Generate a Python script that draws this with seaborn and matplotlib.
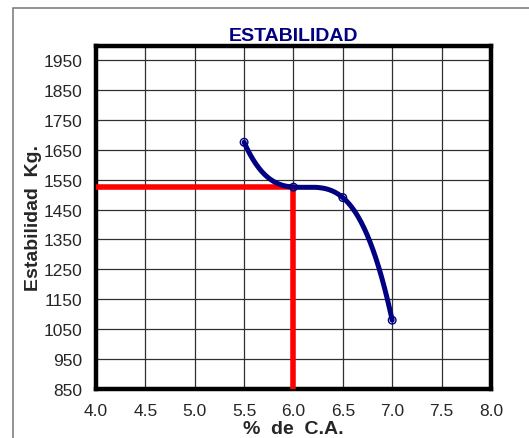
import numpy as np
import pandas as pd
import seaborn as sns
import matplotlib.pyplot as plt
from matplotlib.patches import Rectangle

# datos
porcentaje_ca = [5.5, 6.0, 6.5, 7.0]
estabilidad = [1675, 1525, 1490, 1080]
ca_optimo = 6.0
estab_optimo = 1525

x_ticks = [4.0, 4.5, 5.0, 5.5, 6.0, 6.5, 7.0, 7.5, 8.0]
y_ticks = [850, 950, 1050, 1150, 1250, 1350, 1450, 1550, 1650, 1750, 1850, 1950]

datos = pd.DataFrame({'ca': porcentaje_ca, 'est': estabilidad})

sns.set_style('white')
plt.rcParams['font.family'] = ['Liberation Sans', 'DejaVu Sans']

fig = plt.figure(figsize=(5.29, 4.39), dpi=100)
ax = fig.add_axes([0.1815, 0.1116, 0.7465, 0.7814])

# marco exterior como en Excel
fig.patches.append(Rectangle((13 / 529, -0.1), 1.2, 1 - 9 / 439 + 0.1,
                             transform=fig.transFigure, fill=False,
                             edgecolor='#808080', lw=1.2))

ax.set_xlim(4.0, 8.0)
ax.set_ylim(850, 1997)
ax.set_xticks(x_ticks)
ax.set_xticklabels([f'{v:.1f}' for v in x_ticks])
ax.set_yticks(y_ticks)
ax.grid(True, color='#303030', lw=0.9)

# lineas rojas del optimo
ax.plot([4.0, ca_optimo], [estab_optimo, estab_optimo], color='#ff0000', lw=4, zorder=3)
ax.plot([ca_optimo, ca_optimo], [850, estab_optimo], color='#ff0000', lw=4, zorder=3)

# linea de tendencia polinomica de orden 3
coef = np.polyfit(porcentaje_ca, estabilidad, 3)
xx = np.linspace(min(porcentaje_ca), max(porcentaje_ca), 200)
curva = pd.DataFrame({'ca': xx, 'est': np.polyval(coef, xx)})
sns.lineplot(data=curva, x='ca', y='est', ax=ax, color='#000080', lw=3.6,
             solid_capstyle='round', zorder=4)

sns.scatterplot(data=datos, x='ca', y='est', ax=ax, marker='o', s=30,
                facecolor='none', edgecolor='#000080', linewidth=1.0, zorder=5)

for s in ax.spines.values():
    s.set_linewidth(3.2)
    s.set_color('black')

ax.tick_params(axis='both', direction='out', length=4, width=0.8, color='#555555',
               labelsize=12.5)
ax.tick_params(axis='x', pad=6)
ax.tick_params(axis='y', pad=6)

ax.set_title('ESTABILIDAD', fontsize=14, fontweight='bold', color='#000080', pad=4)
ax.set_xlabel('%  de  C.A.', fontsize=14, fontweight='bold')
ax.set_ylabel('Estabilidad  Kg.', fontsize=14, fontweight='bold')
ax.xaxis.set_label_coords(0.5, -0.09)
ax.yaxis.set_label_coords(-0.137, 0.5)

fig.savefig('out.png', dpi=100)
